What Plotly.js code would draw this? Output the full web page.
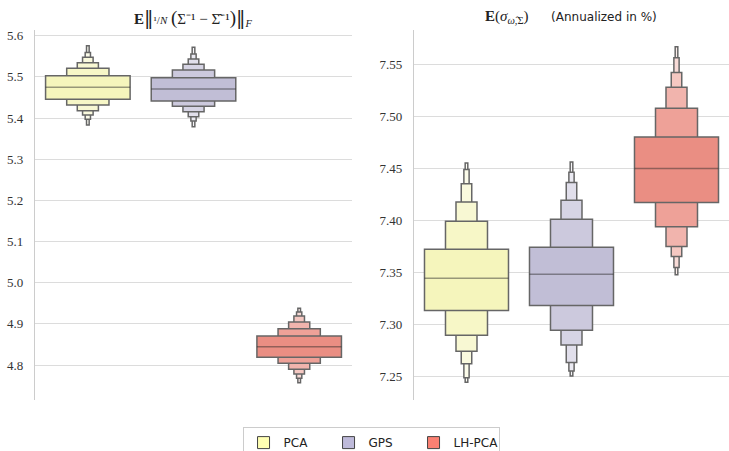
<!DOCTYPE html>
<html>
<head>
<meta charset="utf-8">
<script src="https://cdn.plot.ly/plotly-3.0.1.min.js"></script>
<style>html,body{margin:0;padding:0;background:#fff;}#chart{width:729px;height:451px;}</style>
</head>
<body>
<div id="chart"></div>
<script>
// ---- data ----
const categories = ['PCA', 'GPS', 'LH-PCA'];
const paletteColors = ['#ffffb3', '#bebada', '#fb8072'];
const boxColors = ['#f5f5bc', '#c1bed6', '#ea8e83'];

// Left panel: Frobenius error; letter-value box ends, innermost (level 1) to outermost (level 6)
const frobMedian = [5.4746, 5.4705, 4.8445];
const frobUpper = [
  [5.5030, 5.5210, 5.5344, 5.5475, 5.5596, 5.5757],
  [5.4980, 5.5167, 5.5305, 5.5434, 5.5555, 5.5718],
  [4.8704, 4.8881, 4.9044, 4.9190, 4.9287, 4.9377]
];
const frobLower = [
  [5.4455, 5.4316, 5.4180, 5.4073, 5.3970, 5.3830],
  [5.4413, 5.4290, 5.4154, 5.4032, 5.3927, 5.3789],
  [4.8187, 4.8040, 4.7895, 4.7780, 4.7676, 4.7570]
];

// Right panel: annualized volatility (%)
const volMedian = [7.3442, 7.3480, 7.4497];
const volUpper = [
  [7.3721, 7.3990, 7.4176, 7.4350, 7.4487, 7.4550],
  [7.3740, 7.4010, 7.4192, 7.4362, 7.4462, 7.4560],
  [7.4800, 7.5077, 7.5279, 7.5420, 7.5564, 7.5670]
];
const volLower = [
  [7.3132, 7.2894, 7.2740, 7.2618, 7.2484, 7.2440],
  [7.3180, 7.2940, 7.2800, 7.2632, 7.2550, 7.2500],
  [7.4170, 7.3936, 7.3747, 7.3650, 7.3545, 7.3474]
];

const frobTicks = [4.8, 4.9, 5.0, 5.1, 5.2, 5.3, 5.4, 5.5, 5.6];
const volTicks = [7.25, 7.30, 7.35, 7.40, 7.45, 7.50, 7.55];

// ---- helpers ----
function hexToRgb(h) {
  return [parseInt(h.slice(1,3),16), parseInt(h.slice(3,5),16), parseInt(h.slice(5,7),16)];
}
function lighten(h, t) {
  const c = hexToRgb(h).map(v => Math.round(v + (255 - v) * t));
  return 'rgb(' + c.join(',') + ')';
}

const EDGE = '#666666';
const nLevels = 6;
const traces = [];

function addPanel(upper, lower, median, xa, ya) {
  const xs = categories.map((_, i) => i);
  for (let lv = nLevels - 1; lv >= 0; lv--) {
    const t = 0.85 * lv / (nLevels - 1);
    traces.push({
      type: 'bar',
      x: xs,
      base: xs.map(i => lower[i][lv]),
      y: xs.map(i => upper[i][lv] - lower[i][lv]),
      width: xs.map(() => 0.8 / Math.pow(2, lv)),
      marker: {
        color: xs.map(i => lighten(boxColors[i], t)),
        line: {color: EDGE, width: 1.5}
      },
      xaxis: xa, yaxis: ya,
      showlegend: false,
      hoverinfo: 'skip'
    });
  }
  const mx = [], my = [];
  xs.forEach(i => {
    mx.push(i - 0.4, i + 0.4, null);
    my.push(median[i], median[i], null);
  });
  traces.push({
    type: 'scatter', mode: 'lines',
    x: mx, y: my,
    line: {color: 'rgba(38,38,38,0.45)', width: 1.5},
    xaxis: xa, yaxis: ya,
    showlegend: false, hoverinfo: 'skip'
  });
}

addPanel(frobUpper, frobLower, frobMedian, 'x', 'y');
addPanel(volUpper, volLower, volMedian, 'x2', 'y2');

// legend entries
categories.forEach((name, i) => {
  traces.push({
    type: 'bar', x: [null], y: [null], name: name,
    marker: {color: paletteColors[i], line: {color: '#444', width: 1}},
    xaxis: 'x', yaxis: 'y', showlegend: true, hoverinfo: 'skip'
  });
});

const yCommon = {
  showgrid: true, gridcolor: '#dcdcdc', gridwidth: 1,
  showline: true, linecolor: '#cccccc', linewidth: 1.25,
  zeroline: false, ticks: '',
  tickfont: {family: 'Liberation Serif', size: 13, color: '#333'},
  ticklabelstandoff: 8
};
const xCommon = {
  range: [-0.5, 2.5], showgrid: false, zeroline: false,
  showticklabels: false, showline: false, ticks: '', fixedrange: true
};

const NB = '\u00a0';
const BAR = '<span style="font-family:DejaVu Serif;font-size:19px">\u2016</span>';
const leftTitle = '<b>E</b>' + BAR +
  '<span style="font-size:11px">\u00b9/<i>N</i></span>' + NB +
  '<span style="font-size:19px">(</span>Σ\u207b\u00b9 − Σ̂\u207b\u00b9<span style="font-size:19px">)</span>' +
  BAR + '<sub><i>F</i></sub>';
const rightTitle = '<b>E</b>(<i>σ</i><sub><i>ω̂</i>,Σ</sub>)' + NB + NB + NB + NB + NB + NB +
  '<span style="font-family:DejaVu Sans;font-size:12px">(Annualized in %)</span>';

const layout = {
  width: 729, height: 451,
  margin: {l: 35, r: 0, t: 30, b: 51},
  paper_bgcolor: '#ffffff', plot_bgcolor: '#ffffff',
  barmode: 'overlay',
  showlegend: true,
  xaxis: Object.assign({}, xCommon, {domain: [0, 0.4568], anchor: 'y'}),
  yaxis: Object.assign({}, yCommon, {range: [4.715, 5.614], tickvals: frobTicks, tickformat: '.1f', anchor: 'x'}),
  xaxis2: Object.assign({}, xCommon, {domain: [0.5461, 1], anchor: 'y2'}),
  yaxis2: Object.assign({}, yCommon, {range: [7.227, 7.583], tickvals: volTicks, tickformat: '.2f', anchor: 'x2'}),
  legend: {
    orientation: 'h', xref: 'paper', x: 0.4842, xanchor: 'center',
    yref: 'container', y: 0.053, yanchor: 'top',
    entrywidth: 40, entrywidthmode: 'pixels',
    bordercolor: '#cccccc', borderwidth: 1, bgcolor: '#ffffff',
    font: {family: 'DejaVu Sans', size: 12, color: '#222'}
  },
  annotations: [
    {text: leftTitle, xref: 'paper', yref: 'paper', x: 0.2284, y: 1.035, xanchor: 'center', yanchor: 'middle',
     showarrow: false, font: {family: 'Liberation Serif', size: 15, color: '#222'}},
    {text: rightTitle, xref: 'paper', yref: 'paper', x: 0.773, y: 1.035, xanchor: 'center', yanchor: 'middle',
     showarrow: false, font: {family: 'Liberation Serif', size: 15, color: '#222'}}
  ]
};

Plotly.newPlot('chart', traces, layout, {displayModeBar: false, staticPlot: true});
</script>
</body>
</html>
